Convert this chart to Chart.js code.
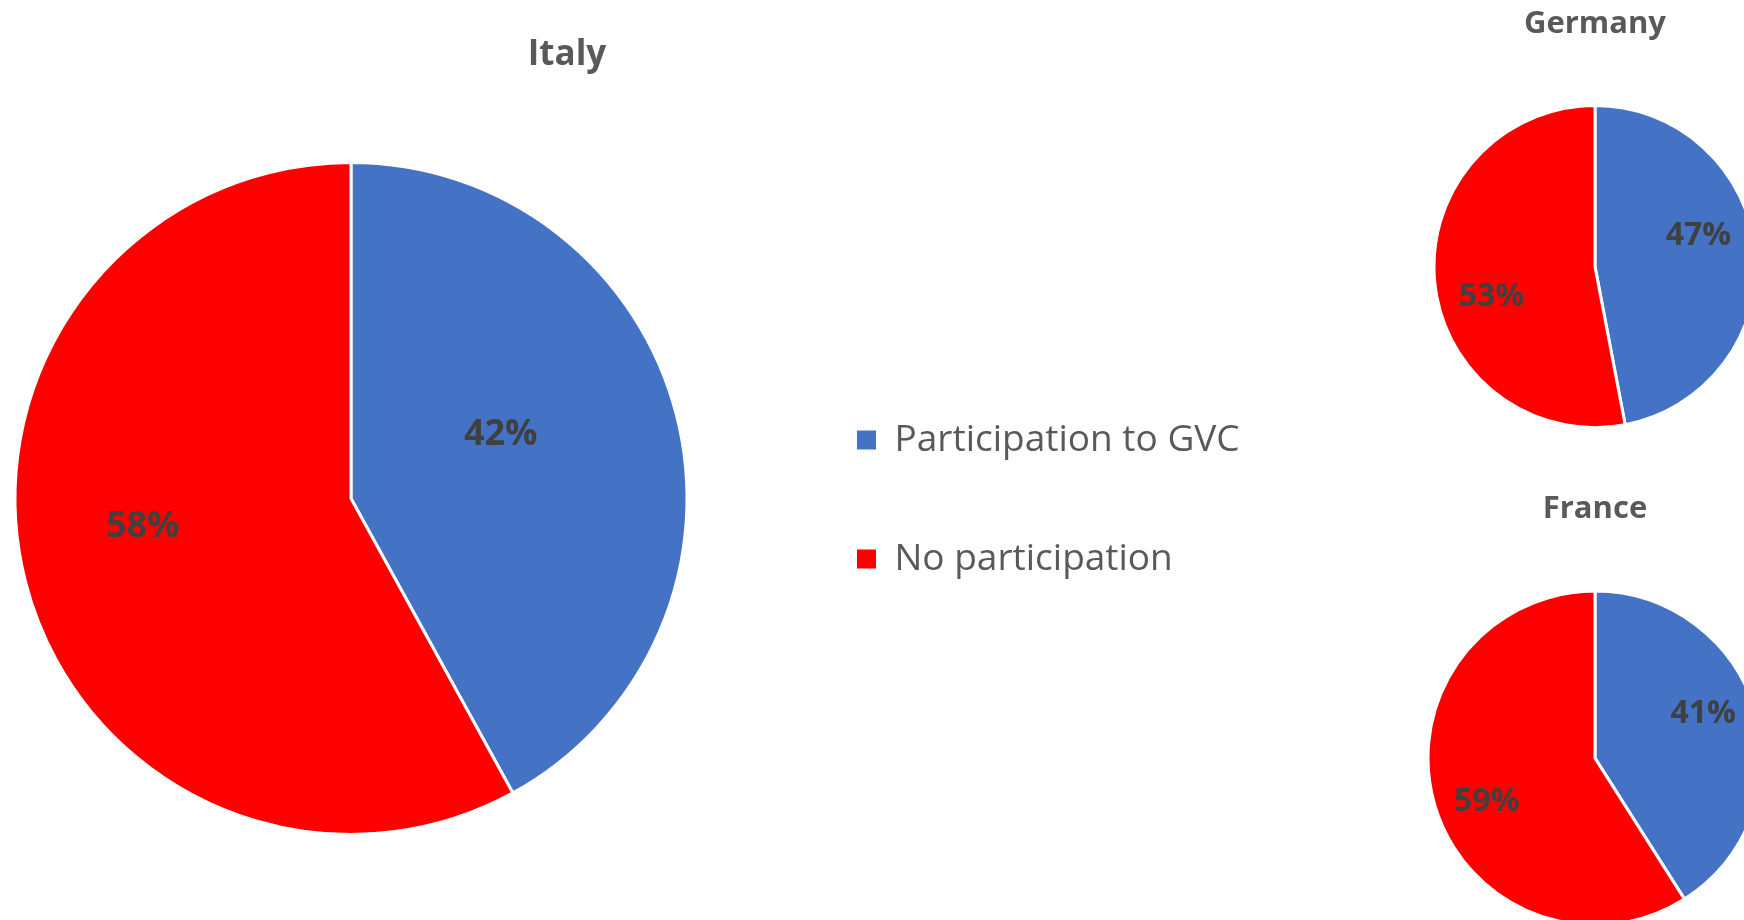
<!DOCTYPE html>
<html>
<head>
<meta charset="utf-8">
<title>GVC participation</title>
<script src="https://cdn.jsdelivr.net/npm/chart.js@4.4.1/dist/chart.umd.min.js"></script>
<style>
  html, body { margin: 0; padding: 0; background: #fff; }
  body { width: 1744px; height: 920px; overflow: hidden; position: relative; }
  .box { position: absolute; }
  #italyBox { left: -106px; top: 0; width: 1346px; height: 915px; }
  #germanyBox { left: 1435px; top: 0; width: 320px; height: 427px; }
  #franceBox { left: 1429px; top: 470px; width: 332px; height: 454px; }
</style>
</head>
<body>
<div class="box" id="italyBox"><canvas id="italy"></canvas></div>
<div class="box" id="germanyBox"><canvas id="germany"></canvas></div>
<div class="box" id="franceBox"><canvas id="france"></canvas></div>
<script>
var sliceLabels = ['Participation to GVC', 'No participation']
var sliceColors = ['#4472C4', '#FF0000']

var italyShares = [42, 58]
var germanyShares = [47, 53]
var franceShares = [41, 59]

Chart.defaults.font.family = '"Open Sans", sans-serif'
Chart.defaults.animation = false

// writes the share in percent inside every slice
// fraction: how far out along the slice (number or one per slice)
// shift: turns the label direction by some degrees, dy: moves labels up/down
var percentLabels = {
  id: 'percentLabels',
  afterDatasetsDraw: function(chart, args, opts) {
    var ctx = chart.ctx
    var meta = chart.getDatasetMeta(0)
    var values = chart.data.datasets[0].data
    var shift = (opts.shift || 0) * Math.PI / 180
    ctx.save()
    ctx.font = 'bold ' + opts.size + 'px "Open Sans"'
    ctx.fillStyle = '#404040'
    ctx.textAlign = 'center'
    ctx.textBaseline = 'middle'
    meta.data.forEach(function(arc, i) {
      var p = arc.getProps(['x', 'y', 'startAngle', 'endAngle', 'outerRadius'], true)
      var mid = (p.startAngle + p.endAngle) / 2 + shift
      var f = Array.isArray(opts.fraction) ? opts.fraction[i] : opts.fraction
      var r = p.outerRadius * f
      ctx.fillText(values[i] + '%', p.x + Math.cos(mid) * r, p.y + Math.sin(mid) * r + (opts.dy || 0))
    })
    ctx.restore()
  }
}

// plain square boxes, no white outline; text as one-line arrays so the
// row height follows the font lineHeight
function legendItems(chart) {
  var items = Chart.overrides.pie.plugins.legend.labels.generateLabels(chart)
  items.forEach(function(it) {
    it.lineWidth = 0
    it.text = [it.text]
  })
  return items
}

function makePie(id, title, shares, cfg) {
  return new Chart(document.getElementById(id), {
    type: 'pie',
    data: {
      labels: sliceLabels,
      datasets: [{
        data: shares,
        backgroundColor: sliceColors,
        borderColor: '#ffffff',
        borderWidth: 3
      }]
    },
    options: {
      responsive: true,
      maintainAspectRatio: false,
      radius: cfg.radius,
      layout: { padding: 0 },
      plugins: {
        title: {
          display: true,
          text: title,
          color: '#595959',
          font: { size: cfg.titleSize, weight: 'bold' },
          padding: cfg.titlePadding
        },
        legend: cfg.legend || { display: false },
        tooltip: { enabled: false },
        percentLabels: cfg.labels
      }
    },
    plugins: [percentLabels]
  })
}

// the big chart carries the shared legend on its right
makePie('italy', 'Italy', italyShares, {
  radius: 336,
  titleSize: 35,
  titlePadding: { top: 34, bottom: 6 },
  labels: { size: 36, fraction: [0.46, 0.64], dy: -25 },
  legend: {
    display: true,
    position: 'right',
    fullSize: false,
    maxWidth: 432,
    title: { display: true, text: '', padding: 0, font: { lineHeight: '35px' } },
    labels: {
      boxWidth: 19,
      boxHeight: 19,
      padding: 49,
      color: '#595959',
      font: { size: 37, lineHeight: '70px' },
      generateLabels: legendItems
    }
  }
})

makePie('germany', 'Germany', germanyShares, {
  radius: 161,
  titleSize: 31,
  titlePadding: { top: 6, bottom: 63 },
  labels: { size: 32, fraction: 0.67, shift: -11 }
})

makePie('france', 'France', franceShares, {
  radius: 167,
  titleSize: 31,
  titlePadding: { top: 21, bottom: 64 },
  labels: { size: 32, fraction: 0.7, shift: -6 }
})
</script>
</body>
</html>
